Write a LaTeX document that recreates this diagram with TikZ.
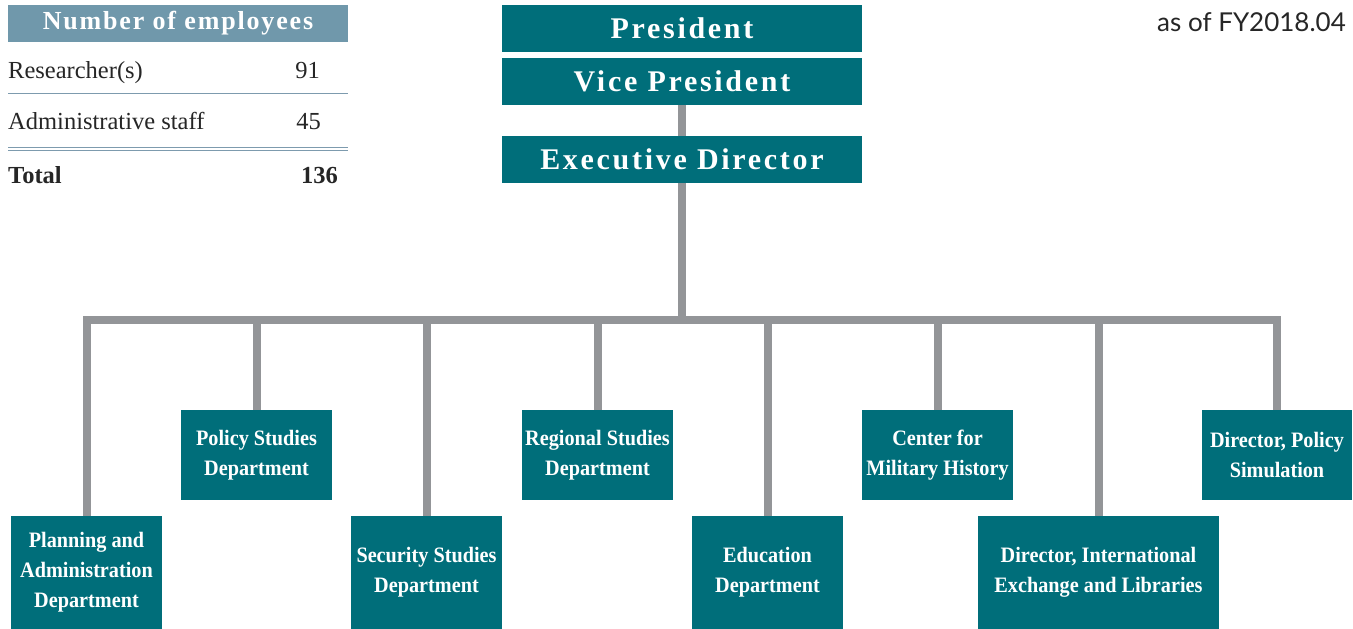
\documentclass[tikz,border=0pt]{standalone}
\usepackage{fontspec}
\setmainfont{Liberation Serif}
\setsansfont{Lato}
\newfontfamily\unitfont[FakeStretch=0.92]{Liberation Serif}
\newfontfamily\topfont[LetterSpace=9]{Liberation Serif}
\newfontfamily\tabheadfont[LetterSpace=7]{Liberation Serif}

\definecolor{boxteal}{HTML}{006E7A}
\definecolor{linegray}{HTML}{939598}
\definecolor{headblue}{HTML}{7098AB}
\definecolor{rulegray}{HTML}{7D9BAE}

\tikzset{
  topbox/.style={fill=boxteal, text=white, inner sep=0pt, minimum width=360, minimum height=47,
    font=\topfont\bfseries\fontsize{30}{32}\selectfont},
  unitbox/.style={fill=boxteal, text=white, inner sep=0pt, minimum width=151, align=center,
    font=\unitfont\bfseries\fontsize{22}{30}\selectfont},
  conn/.style={draw=linegray, line width=8pt},
  cell/.style={inner sep=0pt, font=\fontsize{24.5}{26}\selectfont, text=black!85},
}

\begin{document}
\begin{tikzpicture}[x=1pt, y=-1pt]
\useasboundingbox (0,0) rectangle (1353,629);

\node[topbox] (pres) at (682,28.5) {President};
\node[topbox] (vp) at (682,81.5) {Vice President};
\node[topbox] (exec) at (682,159.5) {Executive Director};

\node[unitbox, minimum height=113] (plan) at (86.5,572.5) {Planning and\\Administration\\Department};
\node[unitbox, minimum height=90] (policy) at (256.5,455) {Policy Studies\\Department};
\node[unitbox, minimum height=113] (security) at (426.5,572.5) {Security Studies\\Department};
\node[unitbox, minimum height=90] (regional) at (597.5,455) {Regional Studies\\Department};
\node[unitbox, minimum height=113] (edu) at (767.5,572.5) {Education\\Department};
\node[unitbox, minimum height=90] (history) at (937.5,455) {Center for\\Military History};
\node[unitbox, minimum height=113, minimum width=241] (intl) at (1098.5,572.5) {Director, International\\Exchange and Libraries};
\node[unitbox, minimum height=90, minimum width=150] (sim) at (1277,455) {Director, Policy\\Simulation};

\coordinate (bus) at (682,320);

\draw[conn] (vp) -- (exec);
\draw[conn] (exec) -- (bus);
\draw[conn] (plan.north) |- (bus) -| (sim.north);
\foreach \n in {policy,security,regional,edu,history,intl}
  \draw[conn] (\n.north) -- (\n.north |- bus);

\node[fill=headblue, text=white, inner sep=0pt, minimum width=340, minimum height=37,
  font=\tabheadfont\bfseries\fontsize{26}{28}\selectfont] (tabhead) at (178,23.5) {Number of employees};
\node[cell, anchor=base west] (res) at (8,78) {Researcher(s)};
\node[cell, anchor=base east] (resn) at (320,78) {91};
\node[cell, anchor=base west] (adm) at (8,129) {Administrative staff};
\node[cell, anchor=base east] (admn) at (321,129) {45};
\node[cell, anchor=base west, font=\bfseries\fontsize{24.5}{26}\selectfont] (tot) at (8,183) {Total};
\node[cell, anchor=base east, font=\bfseries\fontsize{24.5}{26}\selectfont] (totn) at (338,183) {136};

\begin{scope}[rulegray, line width=1.2pt]
\draw (8,93.5) -- (348,93.5);
\draw (8,147.5) -- (348,147.5);
\draw (8,150.5) -- (348,150.5);
\end{scope}

\node[anchor=base west, inner sep=0pt, font=\sffamily\fontsize{26}{28}\selectfont, text=black!85] (asof) at (1157,31) {as of FY2018.04};
\end{tikzpicture}
\end{document}
